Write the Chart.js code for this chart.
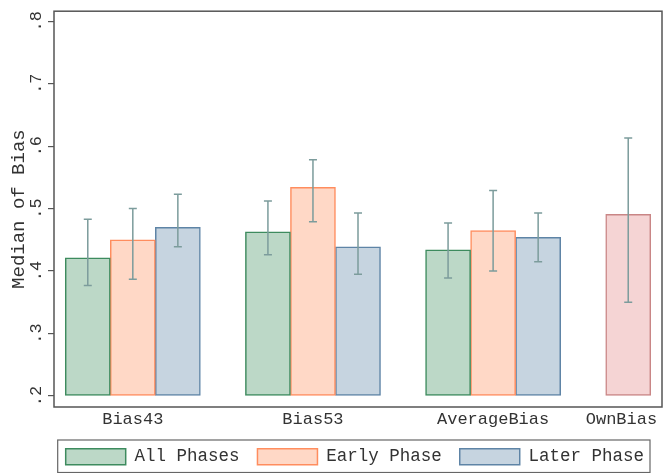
<!DOCTYPE html>
<html>
<head>
<meta charset="utf-8">
<script src="https://cdn.jsdelivr.net/npm/chart.js@4.4.1/dist/chart.umd.min.js"></script>
<style>
  html, body { margin: 0; padding: 0; background: #fff; }
  #wrap { width: 664px; height: 473px; }
</style>
</head>
<body>
<div id="wrap"><canvas id="biasChart" width="664" height="473"></canvas></div>
<script>
const categories = ["Bias43", "Bias53", "AverageBias", "OwnBias"];
const phaseNames = ["All Phases", "Early Phase", "Later Phase"];

// medians (null = no bar for that phase)
const allPhases  = [0.421, 0.463, 0.434, null];
const earlyPhase = [0.450, 0.534, 0.465, null];
const laterPhase = [0.470, 0.439, 0.454, null];
const ownBias    = [null, null, null, 0.491];

// interval ends for the error bars
const allLow    = [0.377, 0.426, 0.389, null];
const allHigh   = [0.483, 0.512, 0.477, null];
const earlyLow  = [0.387, 0.479, 0.400, null];
const earlyHigh = [0.500, 0.578, 0.529, null];
const laterLow  = [0.439, 0.395, 0.415, null];
const laterHigh = [0.523, 0.493, 0.493, null];
const ownLow    = [null, null, null, 0.350];
const ownHigh   = [null, null, null, 0.613];

const yTicks = [0.2, 0.3, 0.4, 0.5, 0.6, 0.7, 0.8];
const yTickLabels = [".2", ".3", ".4", ".5", ".6", ".7", ".8"];

const MONO = "'Liberation Mono', 'DejaVu Sans Mono', monospace";
const TEXT = "#333";
const FRAME = "#555";

// each group takes 4 bar slots, bar s of group g sits at slot g*4+s
function slotPoints(values, lows, highs, s) {
    const pts = [];
    values.forEach((v, g) => {
        if (v === null) return;
        pts.push({ x: g * 4 + s, y: v, lo: lows[g], hi: highs[g] });
    });
    return pts;
}

// label under the middle bar of each group; last one pulled in a bit so it stays on the page
function groupCenters() {
    const series = [allPhases, earlyPhase, laterPhase, ownBias];
    return categories.map((c, g) => {
        const n = series.filter(arr => arr[g] !== null).length;
        const mid = g * 4 + (n - 1) / 2;
        return g === categories.length - 1 ? mid - 0.15 : mid;
    });
}

function barSet(label, values, lows, highs, s, fill, line) {
    return {
        label: label,
        data: slotPoints(values, lows, highs, s),
        backgroundColor: fill,
        borderColor: line,
        borderWidth: 1.5,
        borderSkipped: false,
        base: 0.2,
        grouped: false,
        barPercentage: 1,
        categoryPercentage: 1
    };
}

const errorBars = {
    id: "errorBars",
    afterDatasetsDraw(chart) {
        const ctx = chart.ctx;
        const y = chart.scales.y;
        ctx.save();
        ctx.strokeStyle = "#7c9c9c";
        ctx.lineWidth = 1.5;
        chart.data.datasets.forEach((ds, i) => {
            const meta = chart.getDatasetMeta(i);
            meta.data.forEach((bar, j) => {
                const p = ds.data[j];
                if (p.lo == null) return;
                const x = bar.x;
                const yLo = y.getPixelForValue(p.lo);
                const yHi = y.getPixelForValue(p.hi);
                ctx.beginPath();
                ctx.moveTo(x, yLo); ctx.lineTo(x, yHi);
                ctx.moveTo(x - 4, yLo); ctx.lineTo(x + 4, yLo);
                ctx.moveTo(x - 4, yHi); ctx.lineTo(x + 4, yHi);
                ctx.stroke();
            });
        });
        ctx.restore();
    },
    afterDraw(chart) {
        const ctx = chart.ctx;
        const a = chart.chartArea;
        ctx.save();
        ctx.strokeStyle = FRAME;
        ctx.lineWidth = 1.5;
        ctx.strokeRect(a.left, a.top, a.right - a.left, a.bottom - a.top);
        // box round the legend
        const boxes = chart.legend.legendHitBoxes;
        if (boxes && boxes.length) {
            const left = Math.min(...boxes.map(b => b.left)) - 8;
            const right = Math.max(...boxes.map(b => b.left + b.width)) + 6;
            const top = Math.min(...boxes.map(b => b.top)) - 8;
            const bottom = Math.max(...boxes.map(b => b.top + b.height)) + 7;
            ctx.lineWidth = 1.2;
            ctx.strokeStyle = "#666";
            ctx.strokeRect(left, top, right - left, bottom - top);
        }
        ctx.restore();
    }
};

const labelPos = groupCenters();

new Chart(document.getElementById("biasChart"), {
    type: "bar",
    data: {
        datasets: [
            barSet(phaseNames[0], allPhases, allLow, allHigh, 0, "#bcd8c7", "#3d8b5e"),
            barSet(phaseNames[1], earlyPhase, earlyLow, earlyHigh, 1, "#ffd8c6", "#ff8d5e"),
            barSet(phaseNames[2], laterPhase, laterLow, laterHigh, 2, "#c6d4e0", "#5e84a6"),
            barSet("OwnBias", ownBias, ownLow, ownHigh, 0, "#f5d4d4", "#c98686")
        ]
    },
    options: {
        responsive: false,
        animation: false,
        layout: { autoPadding: false, padding: { top: 10, right: 2, left: 0, bottom: -2.5 } },
        scales: {
            x: {
                type: "linear",
                offset: false,
                min: -0.75,
                max: 12.75,
                grid: { display: false, drawTicks: false },
                border: { display: false },
                afterBuildTicks: scale => { scale.ticks = labelPos.map(v => ({ value: v })); },
                afterFit: scale => { scale.height = 23; },
                ticks: {
                    padding: 2,
                    maxRotation: 0,
                    autoSkip: false,
                    color: TEXT,
                    font: { family: MONO, size: 17 },
                    callback: (v, i) => categories[i]
                }
            },
            y: {
                min: 0.1824,
                max: 0.816,
                grid: { drawOnChartArea: false, drawTicks: true, tickLength: 6, color: FRAME, lineWidth: 1.2 },
                border: { display: false },
                afterBuildTicks: scale => { scale.ticks = yTicks.map(v => ({ value: v })); },
                afterFit: scale => { scale.width = 54; },
                title: {
                    display: true,
                    text: "Median of Bias",
                    color: TEXT,
                    font: { family: MONO, size: 19 },
                    padding: { top: 8, bottom: 0 }
                },
                ticks: {
                    minRotation: 90,
                    maxRotation: 90,
                    crossAlign: "center",
                    padding: 1,
                    color: TEXT,
                    font: { family: MONO, size: 17 },
                    callback: (v, i) => yTickLabels[i]
                }
            }
        },
        plugins: {
            tooltip: { enabled: false },
            legend: {
                position: "bottom",
                align: "end",
                labels: {
                    filter: item => item.datasetIndex < 3,
                    boxWidth: 60,
                    boxHeight: 16,
                    padding: 18,
                    color: TEXT,
                    font: { family: MONO, size: 17.5 }
                }
            }
        }
    },
    plugins: [errorBars]
});
</script>
</body>
</html>
